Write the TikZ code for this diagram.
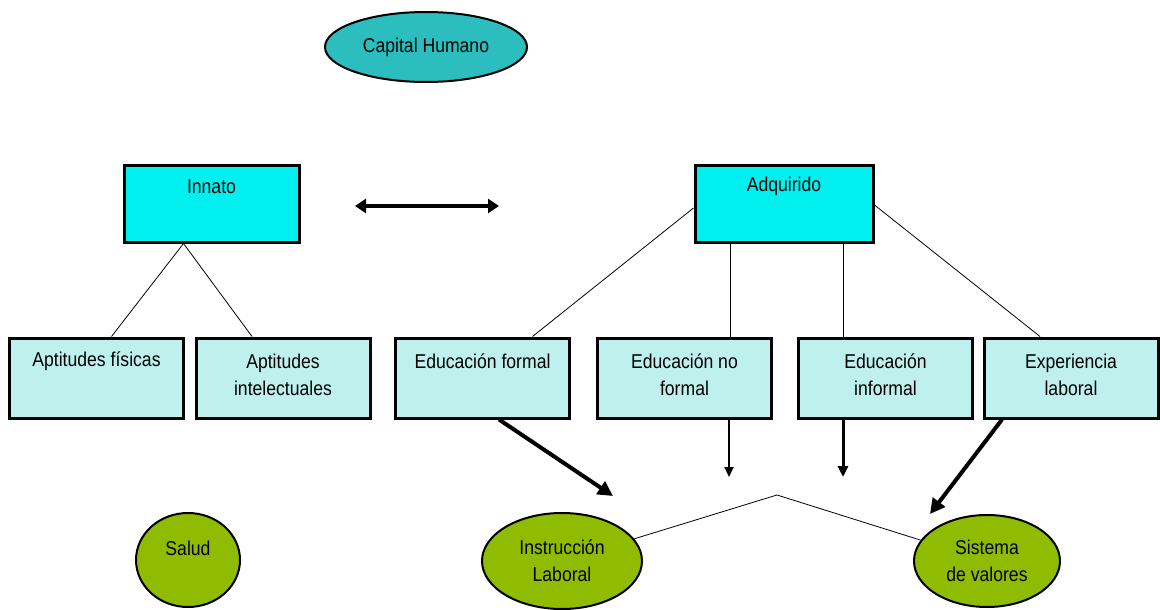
\documentclass[tikz,border=0pt]{standalone}
\usepackage{fontspec}
\setmainfont[FakeStretch=0.88]{Liberation Sans}
\usetikzlibrary{shapes.geometric,arrows.meta,calc}
\definecolor{chTeal}{RGB}{44,190,190}
\definecolor{boxCyan}{RGB}{0,240,240}
\definecolor{boxPale}{RGB}{190,240,238}
\definecolor{ovalGreen}{RGB}{143,188,0}
\begin{document}
\begin{tikzpicture}[x=1pt,y=-1pt,
  txt/.style={font=\fontsize{20}{27}\selectfont, align=center, inner sep=0pt},
  topbox/.style={draw=black, line width=3pt, fill=boxCyan, minimum width=175pt, minimum height=77pt, inner sep=0pt},
  lowbox/.style={draw=black, line width=3pt, fill=boxPale, minimum width=174pt, minimum height=80pt, inner sep=0pt},
  oval/.style={ellipse, draw=black, line width=2pt, fill=ovalGreen, txt},
  link/.style={line width=0.8pt},
  fat/.style={line width=4pt, -{Triangle[length=15pt,width=15pt]}},
  slim/.style={line width=2pt, -{Triangle[length=10pt,width=9pt]}},
  medium/.style={line width=3pt, -{Triangle[length=11pt,width=10pt]}},
  both/.style={line width=4pt, {Triangle[length=11pt,width=14pt]}-{Triangle[length=11pt,width=14pt]}}
]
\useasboundingbox (0,0) rectangle (1160,610);

% title
\node[oval, fill=chTeal, minimum width=202pt, minimum height=70pt] (capital) at (426,47) {Capital Humano};

% two kinds of capital
\node[topbox] (innato) at (211.5,203.5) {};
\node[txt] (innato-t) at ($(innato.north)+(0,23)$) {Innato};
\node[topbox, minimum width=178pt] (adq) at (784,203.5) {};
\node[txt] (adq-t) at ($(adq.north)+(0,23)$) {Adquirido};

\coordinate (dl) at (355,206);
\coordinate (dr) at (499,206);
\draw[both] (dl) -- (dr);

% components
\node[lowbox] (aptF) at (96.5,378) {};
\node[txt] (aptF-t) at ($(aptF.north)+(0,25)$) {Aptitudes físicas};
\node[lowbox] (aptI) at (283,378) {};
\node[txt] (aptI-t) at ($(aptI.north)+(0,38.5)$) {Aptitudes\\intelectuales};
\node[lowbox] (eduF) at (482.5,378) {};
\node[txt] (eduF-t) at ($(eduF.north)+(0,25)$) {Educación formal};
\node[lowbox] (eduNF) at (684.5,378) {};
\node[txt] (eduNF-t) at ($(eduNF.north)+(0,38.5)$) {Educación no\\formal};
\node[lowbox] (eduI) at (885.5,378) {};
\node[txt] (eduI-t) at ($(eduI.north)+(0,38.5)$) {Educación\\informal};
\node[lowbox] (exp) at (1071,378) {};
\node[txt] (exp-t) at ($(exp.north)+(0,38.5)$) {Experiencia\\laboral};

% outcomes
\node[oval, minimum width=104pt, minimum height=94pt] (salud) at (188,560) {};
\node[txt] (salud-t) at (188,548) {Salud};
\node[oval, minimum width=160pt, minimum height=96pt] (instr) at (562,561) {Instrucción\\Laboral};
\node[oval, minimum width=146pt, minimum height=92pt] (sist) at (987,561) {Sistema\\de valores};

% tree links
\draw[link] ($(innato.south)+(-28,0)$) -- ($(aptF.north)+(15,0)$);
\draw[link] ($(innato.south)+(-28,0)$) -- ($(aptI.north)+(-31,0)$);
\draw[link] ($(adq.west)+(0,4.5)$) -- ($(eduF.north)+(50,0)$);
\draw[link] ($(adq.south)+(-54,0)$) -- ($(eduNF.north)+(45.5,0)$);
\draw[link] ($(adq.south)+(59,0)$) -- ($(eduI.north)+(-42.5,0)$);
\draw[link] ($(adq.east)+(0,1.5)$) -- ($(exp.north)+(-31,0)$);

% influence arrows
\coordinate (tipIL) at (613,496);
\coordinate (tipNF) at (729,477);
\coordinate (tipI) at (843,477);
\coordinate (tipSV) at (930,514);
\draw[fat] ($(eduF.south)+(16.5,0)$) -- (tipIL);
\draw[slim] ($(eduNF.south)+(44.5,0)$) -- (tipNF);
\draw[medium] ($(eduI.south)+(-42.5,0)$) -- (tipI);
\draw[fat] ($(exp.south)+(-69,0)$) -- (tipSV);

% link between outcomes
\coordinate (apex) at (777,495);
\draw[link] (instr) -- (apex) -- (sist);
\end{tikzpicture}
\end{document}
